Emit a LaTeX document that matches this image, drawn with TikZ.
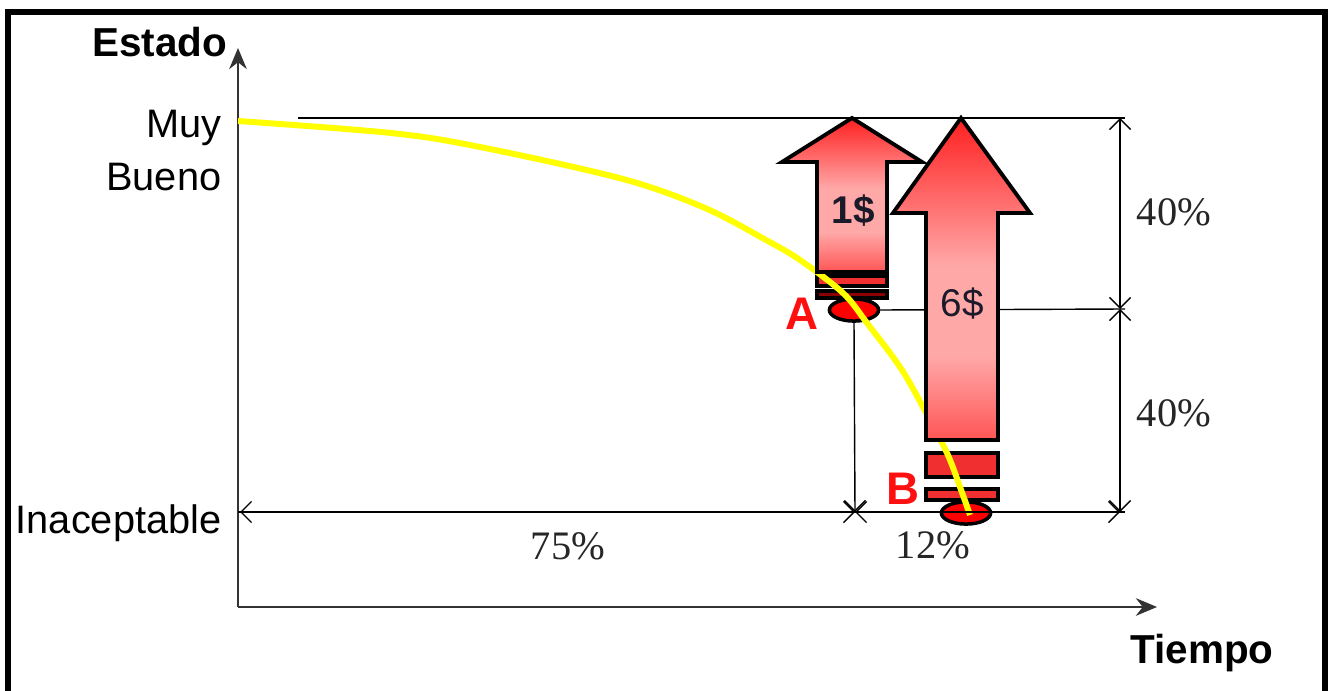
\documentclass[tikz,border=0pt]{standalone}
\usepackage{fontspec}
\setmainfont{Liberation Serif}
\setsansfont{Liberation Sans}
\usetikzlibrary{arrows.meta,shapes.geometric}
\definecolor{axisgray}{HTML}{333333}
\definecolor{curveyellow}{HTML}{FFFF00}
\definecolor{arrowred}{HTML}{FF2020}
\definecolor{arrowlow}{HTML}{FF5555}
\definecolor{arrowpink}{HTML}{FFA8A8}
\definecolor{stripered}{HTML}{F03030}
\definecolor{labelred}{HTML}{FF1010}
\definecolor{textdark}{HTML}{1A1A2A}
\pgfdeclareverticalshading{arrowshade}{100bp}{color(0bp)=(arrowlow); color(25bp)=(arrowlow); color(38bp)=(arrowpink); color(52bp)=(arrowpink); color(75bp)=(arrowred); color(100bp)=(arrowred)}
\begin{document}
\begin{tikzpicture}[x=0.01cm,y=-0.01cm,
  frame/.style={line width=1.5pt,black},
  axis/.style={line width=0.7pt,axisgray,-{Stealth[length=6pt,width=5pt]}},
  dimline/.style={line width=0.4pt,black},
  dimarrow/.style={line width=0.4pt,black,{Straight Barb[length=3pt,width=6pt]}-{Straight Barb[length=3pt,width=6pt]}},
  bigarrow/.style={draw=black,line width=1.1pt,line join=miter,shading=arrowshade},
  stripe/.style={draw=black,line width=1pt,fill=stripered},
  darkstripe/.style={draw=black,line width=1pt,fill=red!55!black},
  point/.style={ellipse,draw=black,line width=1pt,fill=red,inner sep=0pt,minimum width=14pt,minimum height=6.3pt},
  sanslbl/.style={font=\sffamily\fontsize{11.3}{13}\selectfont,text=black,inner sep=0pt},
  boldlbl/.style={font=\sffamily\bfseries\fontsize{11.5}{13}\selectfont,text=black,inner sep=0pt},
  serlbl/.style={font=\fontsize{11.5}{13}\selectfont,text=black!85},
  letter/.style={font=\sffamily\bfseries\fontsize{13}{15}\selectfont,text=labelred},
  money/.style={font=\sffamily\fontsize{11}{13}\selectfont,text=textdark}]
\useasboundingbox (0,0) rectangle (1330,691);
\fill[white] (0,0) rectangle (1330,691);
% frame
\draw[frame] (8,691) -- (8,12) -- (1325,12) -- (1325,691);

% coordinates
\coordinate (O) at (238,607);
\coordinate (ytop) at (238,48);
\coordinate (xend) at (1157,607);
\coordinate (t1) at (298,118);
\coordinate (t2) at (1125,118);
\coordinate (m2) at (1125,309);
\coordinate (b1) at (238,512);
\coordinate (b2) at (1125,512);
\coordinate (dTop) at (1120,118);
\coordinate (dMid) at (1120,309);
\coordinate (dBot) at (1120,512);
\coordinate (hL) at (240,512);
\coordinate (hM) at (855,512);
\coordinate (hR) at (1120,512);

% axes
\draw[axis] (O) -- (ytop);
\draw[axis] (O) -- (xend);

% guide lines
\draw[dimline] (t1) -- (t2);
\draw[dimline] (b1) -- (b2);

% stripes and points
\draw[stripe] (817,276) rectangle (887,286);
\draw[darkstripe] (817,291) rectangle (887,298);
\draw[stripe] (926,453) rectangle (998,477);
\draw[stripe] (926,489) rectangle (998,500);
\node[point] (A) at (854,310) {};
\node[point] (B) at (966,513) {};

% middle line and vertical dimension from A
\draw[dimline] (A.east) -- (m2);
\draw[dimline,-{Straight Barb[length=3pt,width=6pt]}] (A.south) -- (hM);

% curve
\draw[curveyellow,line width=1.7pt] plot[smooth,tension=0.55] coordinates {(238,121) (391,133) (480,147) (623,179) (705,208) (766,240) (800,260) (843,293) (867,323) (900,367) (923,407) (947,453) (960,487) (970,515)};

% arrows
\path[bigarrow] (817,272) -- (817,162) -- (782,162) -- (852,118) -- (922,162) -- (887,162) -- (887,272) -- cycle;
\path[bigarrow] (926,440) -- (926,213) -- (893,213) -- (961,118) -- (1030,213) -- (998,213) -- (998,440) -- cycle;
\node[money,font=\sffamily\bfseries\fontsize{11}{13}\selectfont] (c1) at (853,211) {1\$};
\node[money] (c6) at (962,304) {6\$};

% dimensions
\draw[dimarrow] (dTop) -- (dMid);
\draw[dimarrow] (dMid) -- (dBot);
\draw[dimarrow] (hL) -- (hM);
\draw[dimarrow] (hM) -- (hR);

% labels
\node[boldlbl,anchor=east] (estado) at (228,42) {Estado};
\node[sanslbl,anchor=east] (muy) at (222,128) {Muy};
\node[sanslbl,anchor=east] (bueno) at (222,177) {Bueno};
\node[sanslbl,anchor=east] (inac) at (222,523) {Inaceptable};
\node[boldlbl] (tiempo) at (1202,653) {Tiempo};
\node[letter] (la) at (802,314) {A};
\node[letter] (lb) at (903,489) {B};
\node[serlbl] (p1) at (1174,212) {40\%};
\node[serlbl] (p2) at (1174,413) {40\%};
\node[serlbl] (p3) at (568,546) {75\%};
\node[serlbl] (p4) at (933,545) {12\%};
\end{tikzpicture}
\end{document}
